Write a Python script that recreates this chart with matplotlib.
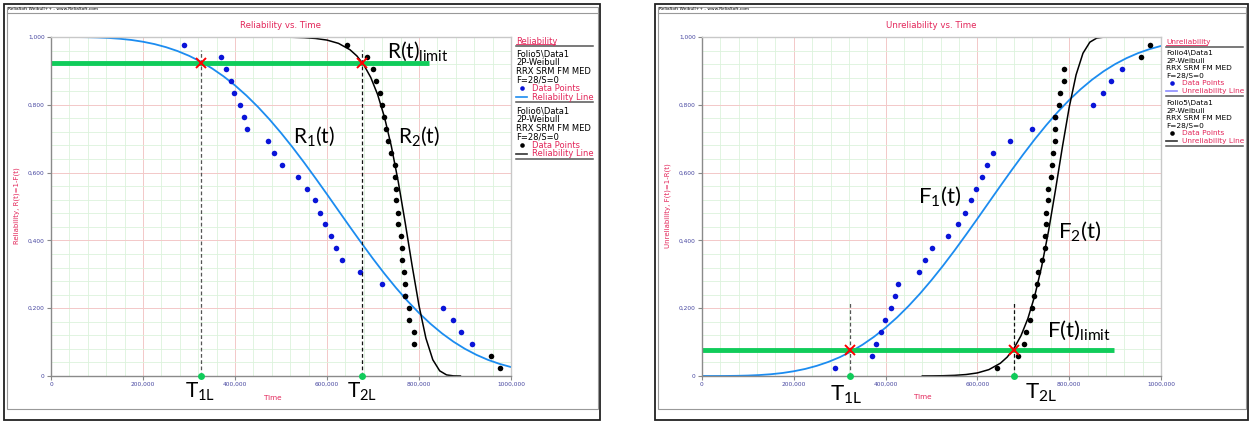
import numpy as np
import matplotlib.pyplot as plt
from matplotlib.lines import Line2D
from matplotlib.patches import Rectangle
from matplotlib.ticker import MultipleLocator

W, H = 1250, 421

# median ranks of the 28 failures (unreliability of each data point)
ranks = [0.025, 0.060, 0.095, 0.130, 0.166, 0.201, 0.236, 0.271, 0.306, 0.342,
         0.377, 0.412, 0.447, 0.482, 0.518, 0.553, 0.588, 0.623, 0.659, 0.694,
         0.729, 0.764, 0.799, 0.835, 0.870, 0.905, 0.940, 0.975]

# failure times (x 1000), wide folio - blue points
t_wide = [289, 370, 380, 391, 398, 411, 420, 426, 472, 485, 502, 537, 557, 573,
          585, 596, 609, 620, 633, 672, 720, 770, 852, 874, 891, 915]
# steep folio - black points (the last two sit at the far end)
t_steep = [643, 688, 701, 706, 715, 720, 724, 729, 733, 740, 747, 748, 750, 750,
           754, 754, 761, 763, 764, 768, 770, 770, 778, 779, 789, 789, 957, 977]

# fitted lines, unreliability F(t)
wide_t = [0, 25, 50, 75, 100, 125, 150, 175, 200, 225, 250, 275, 300, 325, 350,
          375, 400, 425, 450, 475, 500, 525, 550, 575, 600, 625, 650, 675, 700,
          725, 750, 775, 800, 825, 850, 875, 900, 925, 950, 975, 1000]
wide_F = [0.0, 0.0, 0.0001, 0.0005, 0.0013, 0.0028, 0.0052, 0.0088, 0.0140, 0.0209,
          0.0300, 0.0414, 0.0554, 0.0724, 0.0925, 0.1159, 0.1427, 0.1729, 0.2064,
          0.2431, 0.2829, 0.3252, 0.3699, 0.4164, 0.4640, 0.5123, 0.5605, 0.6079,
          0.6541, 0.6983, 0.7399, 0.7787, 0.8141, 0.8460, 0.8743, 0.8989, 0.9200,
          0.9377, 0.9524, 0.9642, 0.9736]
steep_t = [480, 500, 525, 550, 575, 600, 625, 650, 665, 680, 695, 710, 725, 740,
           755, 770, 785, 800, 815, 830, 845, 860, 875, 890]
steep_F = [0.0002, 0.0003, 0.0008, 0.0019, 0.0043, 0.0091, 0.0188, 0.0376, 0.0559,
           0.0822, 0.1190, 0.1696, 0.2368, 0.3230, 0.4277, 0.5479, 0.6742, 0.7925,
           0.8885, 0.9521, 0.9848, 0.9968, 0.9996, 1.0]

R_limit = 0.924
F_limit = 0.076
T_left = [326, 676]
T_right = [322, 680]

x_ticks = [0, 200, 400, 600, 800, 1000]
x_labels = ["0", "200,000", "400,000", "600,000", "800,000", "1000,000"]
y_ticks = [0, 0.2, 0.4, 0.6, 0.8, 1.0]
y_labels = ["0", "0,200", "0,400", "0,600", "0,800", "1,000"]

crimson = "#e3265a"
tick_col = "#4646a0"
blue_pts = "#0a14d8"
blue_line = "#1c8cf0"
green = "#10cc5a"

plt.rcParams["font.family"] = "DejaVu Sans"
plt.rcParams["mathtext.fontset"] = "custom"
plt.rcParams["mathtext.rm"] = "Lato"

fig = plt.figure(figsize=(W / 100, H / 100), dpi=100)


def fx(x):
    return x / W


def fy(y):
    return 1 - y / H


def seg(x0, y0, x1, y1, color="k", lw=1.0):
    fig.add_artist(Line2D([fx(x0), fx(x1)], [fy(y0), fy(y1)], color=color, lw=lw))


def txt(x, y, s, **kw):
    fig.text(fx(x), fy(y), s, **kw)


def frame(x0, x1):
    fig.add_artist(Rectangle((fx(x0), fy(420)), (x1 - x0) / W, 416 / H,
                             fill=False, ec="#222222", lw=1.3))
    fig.add_artist(Rectangle((fx(x0 + 3), fy(409)), (x1 - x0 - 5) / W, 402 / H,
                             fill=False, ec="#999999", lw=0.8))
    seg(x0 + 3, 13, x1 - 2, 13, "#999999", 0.8)
    txt(x0 + 4, 9.5, "ReliaSoft Weibull++ - www.ReliaSoft.com", size=3.2, va="center")


def style(ax):
    ax.set_xlim(0, 1000)
    ax.set_ylim(0, 1)
    ax.set_xticks(x_ticks)
    ax.set_xticklabels(x_labels)
    ax.set_yticks(y_ticks)
    ax.set_yticklabels(y_labels)
    ax.xaxis.set_minor_locator(MultipleLocator(40))
    ax.yaxis.set_minor_locator(MultipleLocator(0.04))
    ax.grid(which="minor", color="#dcf2dc", lw=0.6)
    ax.grid(which="major", color="#f3c8c8", lw=0.7)
    ax.set_axisbelow(True)
    ax.tick_params(which="major", direction="out", length=3, width=0.8, color="#888888",
                   labelsize=4.2, labelcolor=tick_col, pad=1.5)
    ax.tick_params(which="minor", length=0)
    for s in ["left", "bottom"]:
        ax.spines[s].set_color("#8a8a8a")
        ax.spines[s].set_linewidth(1.0)
    for s in ["top", "right"]:
        ax.spines[s].set_color("#c8c8c8")
        ax.spines[s].set_linewidth(1.0)


def legend(x0, x1, top, step, fs, head, head_w, line_label, folios):
    txt(x0, top, head, color=crimson, size=fs, va="center")
    seg(x0, top + 3.2, x0 + head_w, top + 3.2, crimson, 0.6)
    seg(x0, top + 4.5, x1, top + 4.5, "#555555", 1.1)
    y = top + (13 if step > 8 else 11)
    for folio, pcol, lcol in folios:
        for s in [folio, "2P-Weibull", "RRX SRM FM MED", "F=28/S=0"]:
            txt(x0, y, s, size=fs, va="center", linespacing=1)
            y += step
        fig.add_artist(Line2D([fx(x0 + 6)], [fy(y)], marker="o", ms=3.3, color=pcol, mew=0))
        txt(x0 + 16, y, "Data Points", size=fs, color=crimson, va="center")
        y += step
        seg(x0, y, x0 + 11, y, lcol, 1.2)
        txt(x0 + 16, y, line_label, size=fs, color=crimson, va="center")
        seg(x0, y + 5.3, x1, y + 5.3, "#555555", 1.1)
        y += 12 if step < 8 else 14


frame(4, 600)
frame(655, 1248)

axL = fig.add_axes([fx(51), fy(376), 460 / W, 339 / H])
axR = fig.add_axes([fx(702), fy(376), 459 / W, 339 / H])
style(axL)
style(axR)

rk = np.array(ranks)

# left: reliability
axL.plot(wide_t, 1 - np.array(wide_F), color=blue_line, lw=1.3, zorder=2)
axL.plot(steep_t, 1 - np.array(steep_F), color="black", lw=1.1, zorder=2)
axL.plot([0, 822], [R_limit, R_limit], color=green, lw=3.5, solid_capstyle="butt", zorder=2.2)
axL.plot(t_wide, 1 - rk[:len(t_wide)], "o", color=blue_pts, ms=4, mew=0, zorder=3)
axL.plot(t_steep, 1 - rk[:len(t_steep)], "o", color="black", ms=4, mew=0, zorder=4)
for t, c in zip(T_left, ["#555555", "#111111"]):
    axL.plot([t, t], [0, 0.962], color=c, lw=0.9, ls=(0, (3, 2)), zorder=3.5)
    axL.plot([t], [R_limit], "x", color="red", ms=7, mew=1.4, zorder=5)
    axL.plot([t], [0], "o", color=green, ms=5, mew=0, clip_on=False, zorder=6)

# right: unreliability
axR.plot(wide_t, wide_F, color=blue_line, lw=1.3, zorder=2)
axR.plot(steep_t, steep_F, color="black", lw=1.1, zorder=2)
axR.plot([0, 898], [F_limit, F_limit], color=green, lw=3.5, solid_capstyle="butt", zorder=2.2)
axR.plot(t_wide, rk[:len(t_wide)], "o", color=blue_pts, ms=4, mew=0, zorder=3)
axR.plot(t_steep, rk[:len(t_steep)], "o", color="black", ms=4, mew=0, zorder=4)
for t, c in zip(T_right, ["#555555", "#111111"]):
    axR.plot([t, t], [0, 0.215], color=c, lw=0.9, ls=(0, (3, 2)), zorder=3.5)
    axR.plot([t], [F_limit], "x", color="red", ms=7, mew=1.4, zorder=5)
    axR.plot([t], [0], "o", color=green, ms=5, mew=0, clip_on=False, zorder=6)

# titles and axis labels
txt(281, 26, "Reliability vs. Time", size=6.2, color=crimson, ha="center", va="center")
txt(931, 26, "Unreliability vs. Time", size=6.2, color=crimson, ha="center", va="center")
txt(17, 206, "Reliability, R(t)=1-F(t)", size=5, color=crimson, rotation=90,
    ha="center", va="center")
txt(668, 206, "Unreliability, F(t)=1-R(t)", size=5, color=crimson, rotation=90,
    ha="center", va="center")
txt(273, 398, "Time", size=5.2, color=crimson, ha="center", va="center")
txt(923, 397, "Time", size=5.2, color=crimson, ha="center", va="center")

# big annotations
big = dict(va="baseline", ha="left")
txt(387, 58, r"$\mathrm{R(t)_{limit}}$", size=15, **big)
txt(293, 143, r"$\mathrm{R_1(t)}$", size=15, **big)
txt(398, 143, r"$\mathrm{R_2(t)}$", size=15, **big)
txt(185, 398, r"$\mathrm{T_{1L}}$", size=15, **big)
txt(347, 398, r"$\mathrm{T_{2L}}$", size=15, **big)
txt(918, 203, r"$\mathrm{F_1(t)}$", size=16, **big)
txt(1058, 238, r"$\mathrm{F_2(t)}$", size=16, **big)
txt(1047, 337, r"$\mathrm{F(t)_{limit}}$", size=16, **big)
txt(830, 401, r"$\mathrm{T_{1L}}$", size=16, **big)
txt(1025, 399, r"$\mathrm{T_{2L}}$", size=16, **big)

# legends
legend(516, 593, 41, 8.6, 6, "Reliability", 39, "Reliability Line",
       [("Folio5\\Data1", blue_pts, blue_line), ("Folio6\\Data1", "black", "#333333")])
legend(1166, 1243, 42, 7.6, 5.3, "Unreliability", 41, "Unreliability Line",
       [("Folio4\\Data1", blue_pts, "#8c8cff"), ("Folio5\\Data1", "black", "#333333")])

fig.savefig("out.png", dpi=100)
